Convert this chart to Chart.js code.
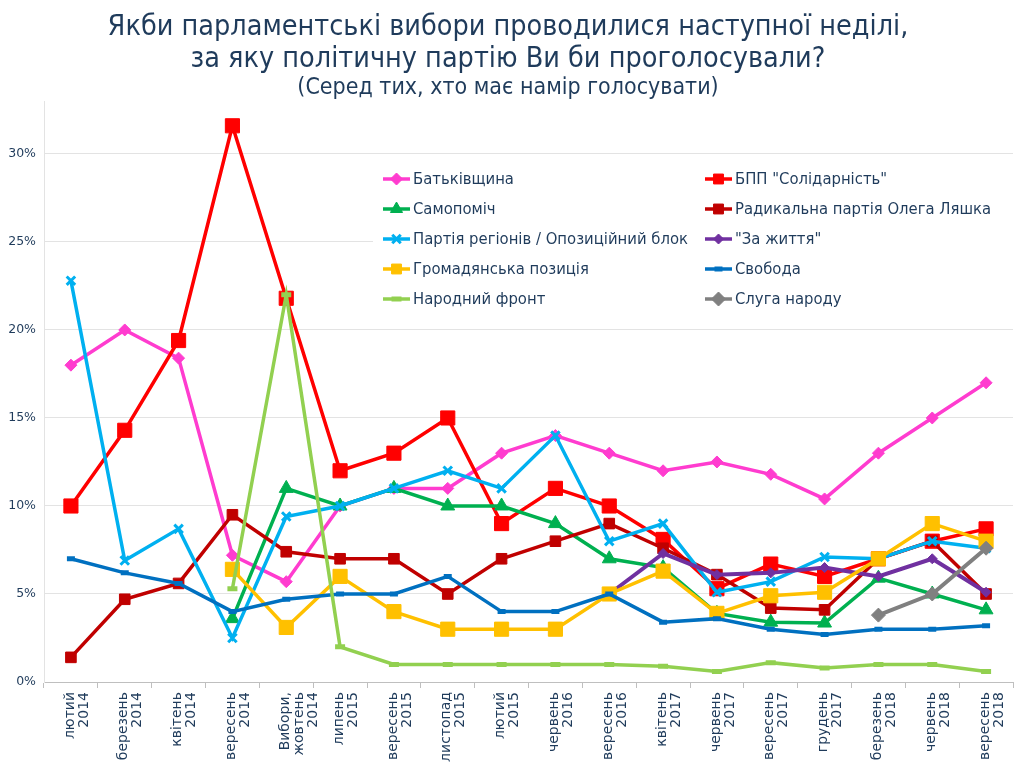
<!DOCTYPE html>
<html>
<head>
<meta charset="utf-8">
<script src="https://cdn.jsdelivr.net/npm/chart.js@4/dist/chart.umd.min.js"></script>
<style>
  html, body { margin: 0; padding: 0; background: #fff; }
  #wrap { width: 1024px; height: 768px; }
</style>
</head>
<body>
<div id="wrap"><canvas id="myChart" width="1024" height="768"></canvas></div>
<script>
// categories (survey waves)
const labels = [
  ["лютий", "2014"], ["березень", "2014"], ["квітень", "2014"], ["вересень", "2014"],
  ["Вибори,", "жовтень", "2014"], ["липень", "2015"], ["вересень", "2015"], ["листопад", "2015"],
  ["лютий", "2015"], ["червень", "2016"], ["вересень", "2016"], ["квітень", "2017"],
  ["червень", "2017"], ["вересень", "2017"], ["грудень", "2017"], ["березень", "2018"],
  ["червень", "2018"], ["вересень", "2018"]
];

// values, %
const batkivshchyna = [18, 20, 18.4, 7.2, 5.7, 10, 11, 11, 13, 14, 13, 12, 12.5, 11.8, 10.4, 13, 15, 17];
const bpp = [10, 14.3, 19.4, 31.6, 21.8, 12, 13, 15, 9, 11, 10, 8.1, 5.3, 6.7, 6, 7, 8, 8.7];
const samopomich = [null, null, null, 3.6, 11, 10, 11, 10, 10, 9, 7, 6.5, 3.9, 3.4, 3.35, 5.9, 5, 4.1];
const radykalna = [1.4, 4.7, 5.6, 9.5, 7.4, 7, 7, 5, 7, 8, 9, 7.6, 6.1, 4.2, 4.1, 7, 8, 5];
const regions = [22.8, 6.9, 8.7, 2.5, 9.4, 10, 11, 12, 11, 14, 8, 9, 5.1, 5.7, 7.1, 7, 8, 7.6];
const zaZhyttia = [null, null, null, null, null, null, null, null, null, null, 5, 7.3, 6.1, 6.2, 6.5, 6, 7, 5.1];
const hromadianska = [null, null, null, 6.4, 3.1, 6, 4, 3, 3, 3, 5, 6.3, 3.9, 4.9, 5.1, 7, 9, 8];
const svoboda = [7, 6.2, 5.6, 4, 4.7, 5, 5, 6, 4, 4, 5, 3.4, 3.6, 3, 2.7, 3, 3, 3.2];
const narodnyiFront = [null, null, null, 5.3, 22, 2, 1, 1, 1, 1, 1, 0.9, 0.6, 1.1, 0.8, 1, 1, 0.6];
const sluhaNarodu = [null, null, null, null, null, null, null, null, null, null, null, null, null, null, null, 3.8, 5, 7.6];

const navy = "#1F3B5B";
const font = "'DejaVu Sans Condensed', 'DejaVu Sans', sans-serif";

function series(label, data, color, style, radius, width) {
  return {
    label: label,
    data: data,
    borderColor: color,
    backgroundColor: color,
    borderWidth: width || 3.5,
    pointStyle: style,
    pointRadius: radius,
    pointHoverRadius: radius,
    pointBorderWidth: style === "line" ? 5 : (style === "crossRot" ? 3 : 1),
    pointBackgroundColor: color,
    pointBorderColor: color,
    tension: 0,
    fill: false
  };
}

const datasets = [
  series("Батьківщина", batkivshchyna, "#FF3CCF", "rectRot", 6),
  series("БПП \"Солідарність\"", bpp, "#FF0000", "rect", 10),
  series("Самопоміч", samopomich, "#00B050", "triangle", 8),
  series("Радикальна партія Олега Ляшка", radykalna, "#C00000", "rect", 7.5),
  series("Партія регіонів / Опозиційний блок", regions, "#00B0F0", "crossRot", 6),
  series("\"За життя\"", zaZhyttia, "#7030A0", "rectRot", 5, 4),
  series("Громадянська позиція", hromadianska, "#FFC000", "rect", 10),
  series("Свобода", svoboda, "#0070C0", "line", 4),
  series("Народний фронт", narodnyiFront, "#92D050", "line", 5),
  series("Слуга народу", sluhaNarodu, "#808080", "rectRot", 7, 4)
];
// later series on top, like the original
datasets.forEach((d, i) => { d.order = datasets.length - i; });

// two-column legend drawn over the plot
const legendPlugin = {
  id: "twoColLegend",
  afterDraw(chart) {
    const ctx = chart.ctx;
    const colX = [383, 705];
    const rowY = [179, 209, 239, 269, 299];
    ctx.save();
    ctx.fillStyle = "#ffffff";
    ctx.fillRect(373, 162, 640, 152);
    chart.data.datasets.forEach((d, i) => {
      const x = colX[i % 2];
      const y = rowY[Math.floor(i / 2)];
      ctx.strokeStyle = d.borderColor;
      ctx.lineWidth = 3.5;
      ctx.beginPath();
      ctx.moveTo(x, y);
      ctx.lineTo(x + 27, y);
      ctx.stroke();
      ctx.fillStyle = d.borderColor;
      ctx.lineWidth = d.pointBorderWidth;
      Chart.helpers.drawPoint(ctx, {
        pointStyle: d.pointStyle,
        radius: Math.min(d.pointRadius, 7),
        borderWidth: d.pointBorderWidth,
        rotation: 0
      }, x + 13.5, y);
      ctx.fillStyle = navy;
      ctx.font = "16.5px " + font;
      ctx.textBaseline = "middle";
      ctx.textAlign = "left";
      ctx.fillText(d.label, x + 30, y + 1);
    });
    ctx.restore();
  }
};

new Chart("myChart", {
  type: "line",
  data: { labels: labels, datasets: datasets },
  plugins: [legendPlugin],
  options: {
    responsive: false,
    animation: false,
    layout: { padding: { left: 0, right: 8, top: 0, bottom: 0 } },
    plugins: {
      legend: { display: false },
      tooltip: { enabled: false },
      title: {
        display: true,
        text: ["Якби парламентські вибори проводилися наступної неділі,", "за яку політичну партію Ви би проголосували?"],
        color: navy,
        font: { family: font, size: 28.5, weight: "normal", lineHeight: 1.12 },
        padding: { top: 12, bottom: 0 }
      },
      subtitle: {
        display: true,
        text: "(Серед тих, хто має намір голосувати)",
        color: navy,
        font: { family: font, size: 23, weight: "normal", lineHeight: 1.1 },
        padding: { top: 0, bottom: 0 }
      }
    },
    scales: {
      x: {
        offset: true,
        afterFit(scale) { scale.height = 86; },
        grid: { display: true, drawOnChartArea: false, drawTicks: true, tickLength: 6, offset: true, color: "#BFBFBF" },
        border: { color: "#BFBFBF", width: 1 },
        ticks: {
          color: navy,
          font: { family: "'DejaVu Sans', sans-serif", size: 14, lineHeight: 1.0 },
          maxRotation: 90,
          minRotation: 90,
          autoSkip: false,
          labelOffset: -1,
          padding: 4
        }
      },
      y: {
        min: 0,
        max: 33,
        afterBuildTicks(scale) {
          scale.ticks = scale.ticks.filter((t) => t.value % 5 === 0);
        },
        afterFit(scale) { scale.width = 44; },
        grid: { color: "#E3E3E3", drawTicks: false },
        border: { color: "#E3E3E3" },
        ticks: {
          stepSize: 5,
          padding: 8,
          color: navy,
          font: { family: "'DejaVu Sans', sans-serif", size: 12.5 },
          callback: (v) => v + "%"
        }
      }
    }
  }
});
</script>
</body>
</html>
